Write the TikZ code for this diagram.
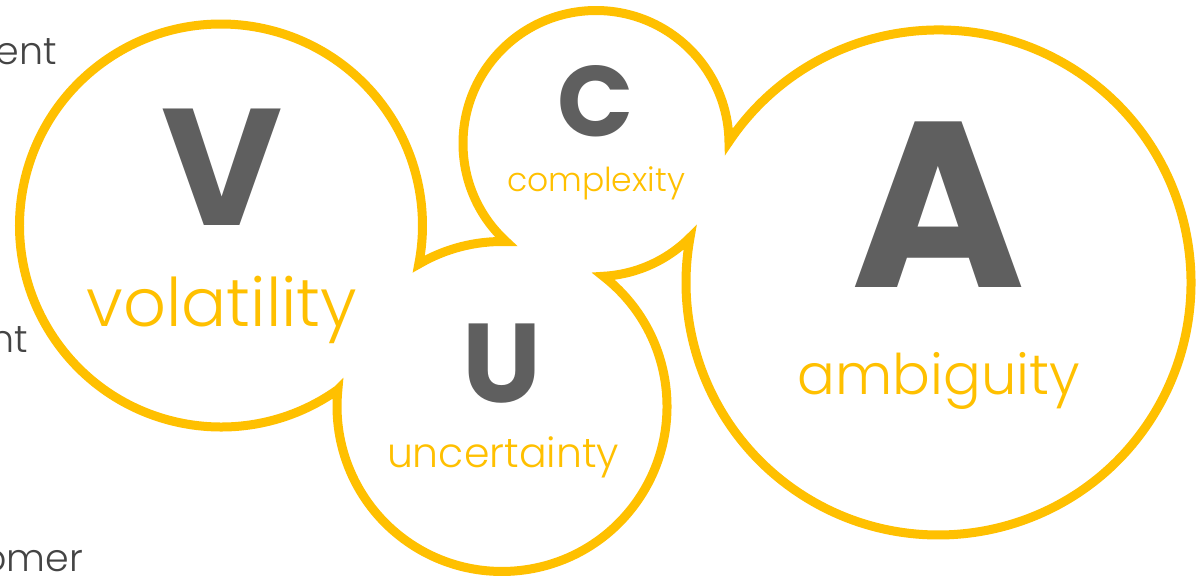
\documentclass[tikz,border=0pt]{standalone}
\usepackage{fontspec}
\setmainfont{Poppins}
\newfontfamily\lightfont{Poppins}[UprightFont=* Light]
\definecolor{vyellow}{HTML}{FFC000}
\definecolor{vgray}{HTML}{5F5F5F}
\definecolor{vtext}{HTML}{444444}
\begin{document}
\begin{tikzpicture}[x=1pt,y=1pt,
  outline/.style={draw=vyellow,line width=9pt,line join=miter,miter limit=20,fill=white},
  bigletter/.style={text=vgray,inner sep=0pt,anchor=base,text depth=0pt},
  word/.style={text=vyellow,inner sep=0pt,anchor=base},
  sidetext/.style={text=vtext,inner sep=0pt,anchor=base east}]
\useasboundingbox (0,0) rectangle (1203,576);
\clip (0,0) rectangle (1203,576);
\fill[white] (0,0) rectangle (1203,576);
% outline of the four merged circles
\draw[outline] (337.86,186.35)
  arc[start angle=-54.55, end angle=-371.02, radius=201.5]
  arc[start angle=120.29, end angle=88.56, radius=165]
  arc[start angle=-132.50, end angle=-359.17, radius=133]
  arc[start angle=146.08, end angle=-190.25, radius=252.5]
  arc[start angle=-45.01, end angle=-86.83, radius=133]
  arc[start angle=52.10, end angle=-185.86, radius=165]
  -- cycle;
% letters
\node[bigletter,font=\bfseries\fontsize{166}{170}\selectfont] (lV) at (222,350) {V};
\node[bigletter,font=\bfseries\fontsize{100}{110}\selectfont] (lC) at (596,439) {C};
\node[bigletter,font=\bfseries\fontsize{112}{120}\selectfont] (lU) at (502,173) {U};
\node[bigletter,font=\bfseries\fontsize{236}{240}\selectfont] (lA) at (938,288) {A};
% words
\node[word,font=\lightfont\fontsize{67}{70}\selectfont] (wV) at (222,249) {volatility};
\node[word,font=\lightfont\fontsize{33}{40}\selectfont] (wC) at (596,384) {complexity};
\node[word,font=\lightfont\fontsize{41}{44}\selectfont] (wU) at (503,108) {uncertainty};
\node[word,font=\lightfont\fontsize{56}{60}\selectfont] (wA) at (939,181) {ambiguity};
% cut-off side texts
\node[sidetext,font=\lightfont\fontsize{38}{44}\selectfont] (s1) at (57,511) {ent};
\node[sidetext,font=\lightfont\fontsize{38}{44}\selectfont] (s2) at (28,223) {nt};
\node[sidetext,font=\lightfont\fontsize{38}{44}\selectfont] (s3) at (83,4) {omer};
\end{tikzpicture}
\end{document}
